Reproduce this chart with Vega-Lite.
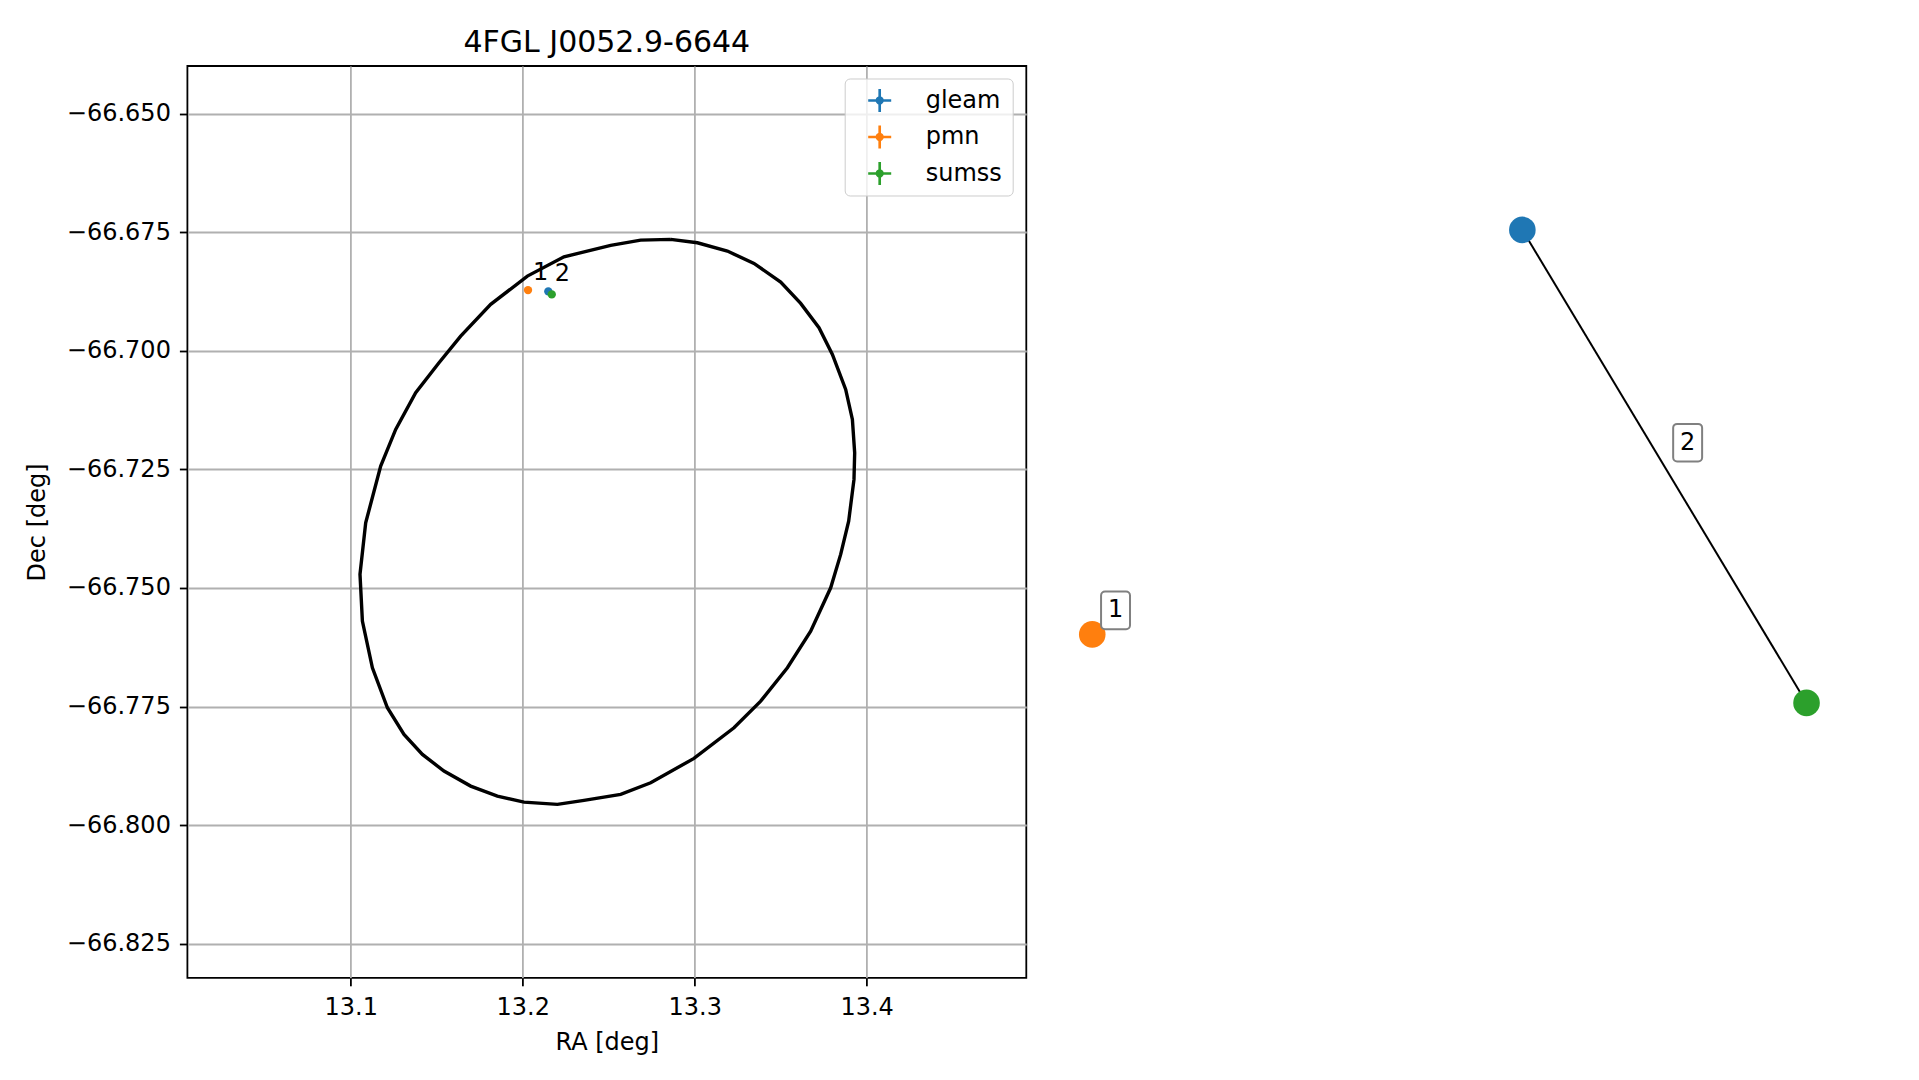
{
  "$schema": "https://vega.github.io/schema/vega-lite/v6.json",
  "background": "white",
  "padding": {"left": 24.4, "top": 27, "right": 5, "bottom": 5},
  "config": {"font": "DejaVu Sans", "view": {"stroke": null}},
  "datasets": {
    "ellipse": [
      {"order": 1, "ra": 13.28605, "dec": -66.67652},
      {"order": 2, "ra": 13.30157, "dec": -66.67723},
      {"order": 3, "ra": 13.31901, "dec": -66.67898},
      {"order": 4, "ra": 13.33448, "dec": -66.68158},
      {"order": 5, "ra": 13.35, "dec": -66.68552},
      {"order": 6, "ra": 13.36163, "dec": -66.69001},
      {"order": 7, "ra": 13.37227, "dec": -66.69515},
      {"order": 8, "ra": 13.38006, "dec": -66.70076},
      {"order": 9, "ra": 13.38779, "dec": -66.70814},
      {"order": 10, "ra": 13.39169, "dec": -66.71446},
      {"order": 11, "ra": 13.39302, "dec": -66.7215},
      {"order": 12, "ra": 13.39262, "dec": -66.72711},
      {"order": 13, "ra": 13.38953, "dec": -66.7359},
      {"order": 14, "ra": 13.38488, "dec": -66.74292},
      {"order": 15, "ra": 13.37907, "dec": -66.74996},
      {"order": 16, "ra": 13.36744, "dec": -66.75909},
      {"order": 17, "ra": 13.3539, "dec": -66.76682},
      {"order": 18, "ra": 13.33837, "dec": -66.77384},
      {"order": 19, "ra": 13.32285, "dec": -66.77947},
      {"order": 20, "ra": 13.29959, "dec": -66.78592},
      {"order": 21, "ra": 13.27442, "dec": -66.79106},
      {"order": 22, "ra": 13.25698, "dec": -66.79351},
      {"order": 23, "ra": 13.23564, "dec": -66.79477},
      {"order": 24, "ra": 13.22017, "dec": -66.79562},
      {"order": 25, "ra": 13.20076, "dec": -66.79513},
      {"order": 26, "ra": 13.18529, "dec": -66.79387},
      {"order": 27, "ra": 13.16977, "dec": -66.79176},
      {"order": 28, "ra": 13.15424, "dec": -66.7886},
      {"order": 29, "ra": 13.14169, "dec": -66.78508},
      {"order": 30, "ra": 13.13099, "dec": -66.78086},
      {"order": 31, "ra": 13.12134, "dec": -66.77525},
      {"order": 32, "ra": 13.11262, "dec": -66.76682},
      {"order": 33, "ra": 13.1068, "dec": -66.75698},
      {"order": 34, "ra": 13.10541, "dec": -66.74713},
      {"order": 35, "ra": 13.10872, "dec": -66.73626},
      {"order": 36, "ra": 13.11744, "dec": -66.7243},
      {"order": 37, "ra": 13.12616, "dec": -66.71657},
      {"order": 38, "ra": 13.13779, "dec": -66.70885},
      {"order": 39, "ra": 13.15134, "dec": -66.70253},
      {"order": 40, "ra": 13.16395, "dec": -66.6969},
      {"order": 41, "ra": 13.1814, "dec": -66.69022},
      {"order": 42, "ra": 13.20273, "dec": -66.68425},
      {"order": 43, "ra": 13.22401, "dec": -66.68019},
      {"order": 44, "ra": 13.25116, "dec": -66.67778},
      {"order": 45, "ra": 13.2686, "dec": -66.67667},
      {"order": 46, "ra": 13.28605, "dec": -66.67652}
    ],
    "sources": [
      {"catalog": "gleam", "ra": 13.2149, "dec": -66.68748},
      {"catalog": "pmn", "ra": 13.2031, "dec": -66.68721},
      {"catalog": "sumss", "ra": 13.2169, "dec": -66.68811}
    ],
    "groups": [
      {"label": "1", "ra": 13.21047, "dec": -66.68356},
      {"label": "2", "ra": 13.22308, "dec": -66.6839}
    ],
    "nodes": [
      {"catalog": "gleam", "x": 0.2043, "y": 0.6622},
      {"catalog": "pmn", "x": -1.0, "y": -0.4704},
      {"catalog": "sumss", "x": 1.0, "y": -0.6622}
    ],
    "edges": [
      {"x": 0.2043, "y": 0.6622, "x2": 1.0, "y2": -0.6622}
    ],
    "netlabels": [
      {"label": "1", "x": -0.9348, "y": -0.4032},
      {"label": "2", "x": 0.6671, "y": 0.0664}
    ]
  },
  "spacing": 22,
  "resolve": {"scale": {"color": "independent", "x": "independent", "y": "independent"}, "legend": {"color": "independent"}},
  "hconcat": [
    {
      "width": 838.9,
      "height": 911.8,
      "view": {"stroke": "black", "strokeWidth": 1.8},
      "title": {"text": "4FGL J0052.9-6644", "fontSize": 30, "fontWeight": "normal", "baseline": "alphabetic", "offset": -16, "frame": "group", "anchor": "middle", "color": "black"},
      "encoding": {
        "x": {"field": "ra", "type": "quantitative",
          "scale": {"domain": [13.00506, 13.4928], "nice": false, "zero": false},
          "axis": {"title": "RA [deg]", "values": [13.1, 13.2, 13.3, 13.4], "format": ".1f", "grid": true, "gridColor": "#b0b0b0", "gridWidth": 1.8, "domain": false, "tickColor": "black", "tickWidth": 1.8, "tickSize": 8, "labelFontSize": 24, "labelColor": "black", "labelPadding": 10, "labelFlush": false, "labelOverlap": false, "titleFontSize": 24, "titleFontWeight": "normal", "titleColor": "black", "titlePadding": 10.5}},
        "y": {"field": "dec", "type": "quantitative",
          "scale": {"domain": [-66.83217, -66.63997], "nice": false, "zero": false},
          "axis": {"title": "Dec [deg]", "values": [-66.825, -66.8, -66.775, -66.75, -66.725, -66.7, -66.675, -66.65], "format": ".3f", "grid": true, "gridColor": "#b0b0b0", "gridWidth": 1.8, "domain": false, "tickColor": "black", "tickWidth": 1.8, "tickSize": 8, "labelFontSize": 24, "labelColor": "black", "labelPadding": 9, "labelFlush": false, "labelOverlap": false, "titleFontSize": 24, "titleFontWeight": "normal", "titleColor": "black", "titlePadding": 16.7}}
      },
      "layer": [
        {"data": {"name": "ellipse"}, "mark": {"type": "line", "color": "black", "strokeWidth": 3.4}, "encoding": {"order": {"field": "order", "type": "quantitative"}}},
        {"data": {"name": "sources"}, "mark": {"type": "point", "filled": true, "size": 70, "opacity": 1},
          "encoding": {"color": {"field": "catalog", "type": "nominal",
            "scale": {"domain": ["gleam", "pmn", "sumss"], "range": ["#1f77b4", "#ff7f0e", "#2ca02c"]},
            "legend": {"title": null, "orient": "none", "legendX": 657.3, "legendY": 12.5,
              "symbolType": "M-0.115,-1 L0.115,-1 L0.115,-0.341 A0.36,0.36 0 0 1 0.341,-0.115 L1,-0.115 L1,0.115 L0.341,0.115 A0.36,0.36 0 0 1 0.115,0.341 L0.115,1 L-0.115,1 L-0.115,0.341 A0.36,0.36 0 0 1 -0.341,0.115 L-1,0.115 L-1,-0.115 L-0.341,-0.115 A0.36,0.36 0 0 1 -0.115,-0.341 Z",
              "symbolSize": 529, "symbolStrokeWidth": 0, "symbolOpacity": 1, "symbolOffset": 13,
              "labelFontSize": 24, "labelColor": "black", "labelOffset": 34, "labelBaseline": "middle",
              "padding": 10, "rowPadding": 12.5, "strokeColor": "#cccccc", "fillColor": "rgba(255,255,255,0.8)", "cornerRadius": 5}}}},
        {"data": {"name": "groups"}, "mark": {"type": "text", "fontSize": 24, "color": "black", "baseline": "middle", "align": "center"}, "encoding": {"text": {"field": "label"}}}
      ]
    },
    {
      "width": 800,
      "height": 911.8,
      "view": {"stroke": null},
      "encoding": {
        "x": {"field": "x", "type": "quantitative", "scale": {"domain": [-1.12, 1.12], "nice": false, "zero": false}, "axis": null},
        "y": {"field": "y", "type": "quantitative", "scale": {"domain": [-1.4319, 1.1211], "nice": false, "zero": false}, "axis": null}
      },
      "layer": [
        {"data": {"name": "edges"}, "mark": {"type": "rule", "color": "black", "strokeWidth": 2}, "encoding": {"x2": {"field": "x2"}, "y2": {"field": "y2"}}},
        {"data": {"name": "nodes"}, "mark": {"type": "point", "filled": true, "size": 707, "opacity": 1},
          "encoding": {"color": {"field": "catalog", "type": "nominal", "scale": {"domain": ["gleam", "pmn", "sumss"], "range": ["#1f77b4", "#ff7f0e", "#2ca02c"]}, "legend": null}}},
        {"data": {"name": "netlabels"}, "mark": {"type": "point", "filled": true, "opacity": 1, "size": 1414, "fill": "white", "stroke": "#808080", "strokeWidth": 2,
          "shape": "M-0.56,-1 L0.56,-1 A0.21,0.21 0 0 1 0.77,-0.79 L0.77,0.79 A0.21,0.21 0 0 1 0.56,1 L-0.56,1 A0.21,0.21 0 0 1 -0.77,0.79 L-0.77,-0.79 A0.21,0.21 0 0 1 -0.56,-1 Z"}, "encoding": {}},
        {"data": {"name": "netlabels"}, "mark": {"type": "text", "fontSize": 24, "color": "black", "baseline": "middle", "align": "center"}, "encoding": {"text": {"field": "label"}}}
      ]
    }
  ]
}
